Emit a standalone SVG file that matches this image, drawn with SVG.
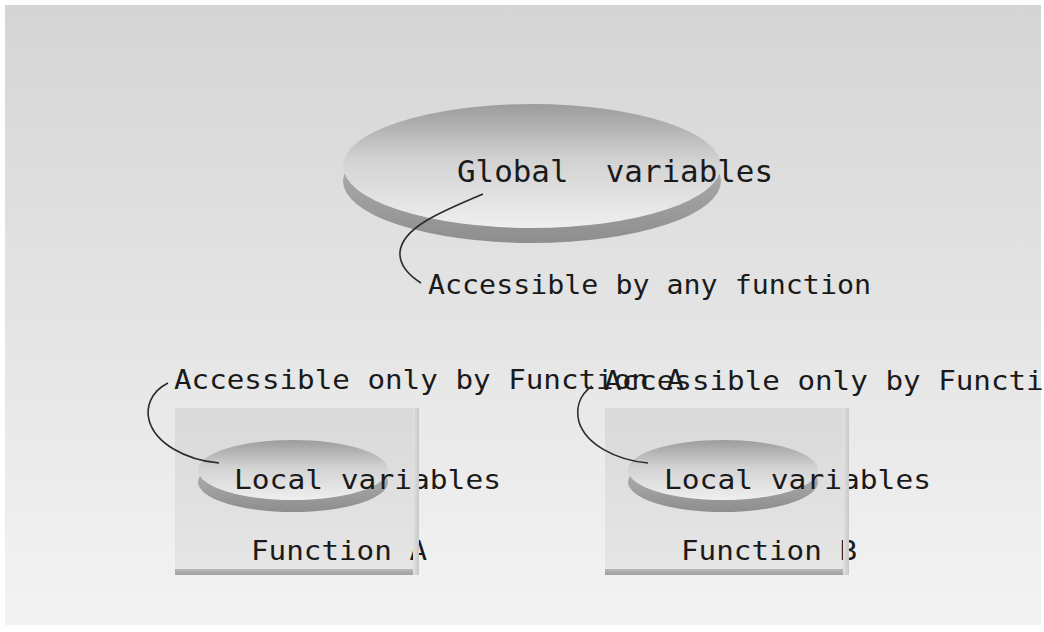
<svg xmlns="http://www.w3.org/2000/svg" width="1044" height="632" viewBox="0 0 1044 632">
<defs>
<linearGradient id="bg" x1="0" y1="0" x2="0" y2="1">
<stop offset="0" stop-color="#d5d5d5"/>
<stop offset="1" stop-color="#f3f3f3"/>
</linearGradient>
<linearGradient id="face" x1="0" y1="0" x2="0" y2="1">
<stop offset="0" stop-color="#9c9c9c"/>
<stop offset="0.45" stop-color="#d2d2d2"/>
<stop offset="1" stop-color="#efefef"/>
</linearGradient>
<linearGradient id="rim" x1="0" y1="0" x2="0" y2="1">
<stop offset="0" stop-color="#bdbdbd"/>
<stop offset="1" stop-color="#8e8e8e"/>
</linearGradient>
<linearGradient id="box" x1="0" y1="0" x2="0" y2="1">
<stop offset="0" stop-color="#d9d9d9"/>
<stop offset="1" stop-color="#e6e6e6"/>
</linearGradient>
<linearGradient id="edge" x1="0" y1="0" x2="1" y2="0">
<stop offset="0" stop-color="#e2e2e2"/>
<stop offset="1" stop-color="#c8c8c8"/>
</linearGradient>
<linearGradient id="shadow" x1="0" y1="0" x2="0" y2="1">
<stop offset="0" stop-color="#b8b8b8"/>
<stop offset="1" stop-color="#a0a0a0"/>
</linearGradient>
</defs>
<style>
text{font-family:"DejaVu Sans Mono","Liberation Mono",monospace;fill:#1a1a1a;}
.big{font-size:30px;}
.lbl{font-size:27px;}
.conn{fill:none;stroke:#2a2a2a;stroke-width:1.6;}
</style>
<rect x="0" y="0" width="1044" height="632" fill="#ffffff"/>
<rect x="5" y="5" width="1036" height="620" fill="url(#bg)"/>

<g id="global">
<ellipse cx="532" cy="181" rx="189" ry="62" fill="url(#rim)"/>
<ellipse cx="532" cy="166" rx="189" ry="62" fill="url(#face)"/>
<text class="big" x="457" y="182" textLength="316" lengthAdjust="spacingAndGlyphs" xml:space="preserve">Global  variables</text>
</g>
<g id="global-note">
<text class="lbl" x="428" y="294" textLength="443" lengthAdjust="spacingAndGlyphs">Accessible by any function</text>
</g>

<g id="functionA">
<rect x="175" y="408" width="244" height="167" fill="url(#box)"/>
<rect x="175" y="569" width="244" height="6" fill="url(#shadow)"/>
<ellipse cx="293" cy="482" rx="95" ry="30" fill="url(#rim)"/>
<ellipse cx="293" cy="470" rx="95" ry="30" fill="url(#face)"/>
<text class="lbl" x="234" y="489" textLength="267" lengthAdjust="spacingAndGlyphs">Local variables</text>
<text class="lbl" x="251" y="560" textLength="176" lengthAdjust="spacingAndGlyphs">Function A</text>
<rect x="413" y="408" width="6" height="167" fill="url(#edge)"/>
</g>

<g id="functionB">
<rect x="605" y="408" width="244" height="167" fill="url(#box)"/>
<rect x="605" y="569" width="244" height="6" fill="url(#shadow)"/>
<ellipse cx="723" cy="482" rx="95" ry="30" fill="url(#rim)"/>
<ellipse cx="723" cy="470" rx="95" ry="30" fill="url(#face)"/>
<text class="lbl" x="664" y="489" textLength="267" lengthAdjust="spacingAndGlyphs">Local variables</text>
<text class="lbl" x="681" y="560" textLength="176" lengthAdjust="spacingAndGlyphs">Function B</text>
<rect x="843" y="408" width="6" height="167" fill="url(#edge)"/>
</g>

<g id="noteA">
<text class="lbl" x="174" y="389" textLength="510" lengthAdjust="spacingAndGlyphs">Accessible only by Function A</text>
</g>
<g id="noteB">
<text class="lbl" x="604" y="390" textLength="510" lengthAdjust="spacingAndGlyphs">Accessible only by Function B</text>
</g>

<g id="connectors">
<path class="conn" d="M483,194 C440,212 402,228 400,252 C399,266 410,276 421,283"/>
<path class="conn" d="M168,383 C150,392 146,408 149,420 C155,443 185,460 219,463"/>
<path class="conn" d="M592,386 C578,396 576,410 579,422 C586,444 615,460 648,463"/>
</g>
</svg>
